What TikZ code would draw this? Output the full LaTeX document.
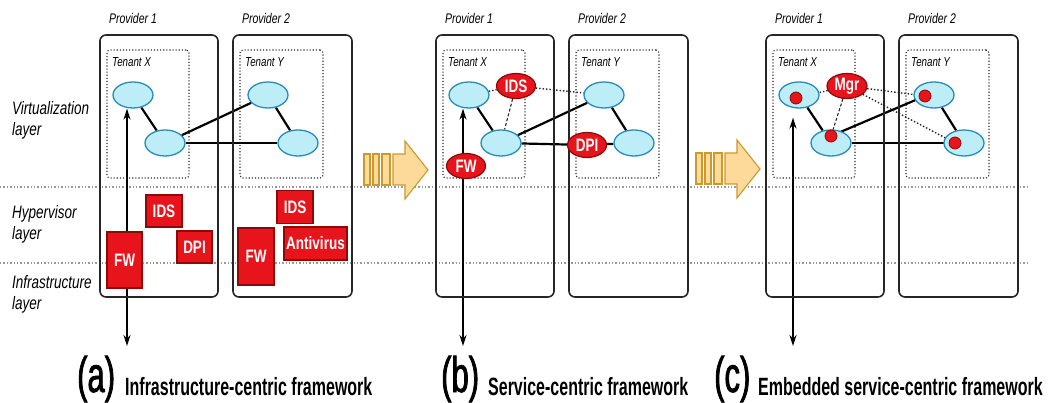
\documentclass[tikz,border=0pt]{standalone}
\usepackage{fontspec}
\setmainfont{Liberation Sans}
\newfontfamily\labfont[FakeStretch=0.75]{Liberation Sans}
\newfontfamily\capfont[FakeStretch=0.64]{Liberation Sans}
\newfontfamily\letfont[FakeStretch=0.62,FakeBold=1.5]{Liberation Sans}
\usetikzlibrary{shapes.geometric,arrows.meta}
\pgfdeclarelayer{bg}
\pgfsetlayers{bg,main}
\definecolor{vmfill}{HTML}{BDEEF8}
\definecolor{vmdraw}{HTML}{2A8CB5}
\definecolor{secred}{HTML}{E8141C}
\definecolor{secdraw}{HTML}{8E0808}
\definecolor{arrfill}{HTML}{FDD99A}
\definecolor{arrdraw}{HTML}{C99A2E}
\tikzset{
  provider/.style={draw=black!85, line width=1.6pt, rounded corners=6pt, inner sep=0pt},
  tenant/.style={draw=black!85, dotted, line width=1.1pt, rounded corners=3pt, inner sep=0pt},
  vm/.style={ellipse, draw=vmdraw, fill=vmfill, line width=1.3pt, minimum width=40pt, minimum height=26pt, inner sep=0pt},
  secbox/.style={rectangle, draw=secdraw, fill=secred, line width=1.2pt, text=white, font=\labfont\bfseries\fontsize{18}{18}\selectfont, inner sep=0pt},
  secell/.style={ellipse, draw=secdraw, fill=secred, line width=1.2pt, text=white, font=\labfont\bfseries\fontsize{18}{18}\selectfont, inner sep=0pt, minimum width=39pt, minimum height=25pt},
  reddot/.style={circle, fill=secred, draw=secdraw, line width=0.8pt, minimum size=12pt, inner sep=0pt},
  link/.style={line width=2.2pt, black},
  ctrl/.style={dotted, line width=1.4pt, black!85},
  dashlink/.style={dash pattern=on 3pt off 2pt, line width=1.1pt, black!85},
  flow/.style={line width=1.6pt, {Stealth[length=11pt,width=7pt]}-{Stealth[length=11pt,width=7pt]}},
  layerline/.style={black!40, dotted, line width=1.4pt},
  provlab/.style={font=\labfont\itshape\fontsize{14}{16}\selectfont, inner sep=0pt},
  tenlab/.style={font=\labfont\itshape\fontsize{13}{15}\selectfont, inner sep=0pt},
  layerlab/.style={font=\labfont\itshape\fontsize{18}{21}\selectfont, align=left, inner sep=0pt, anchor=base west},
  capletter/.style={font=\letfont\fontsize{50}{54}\selectfont, inner sep=0pt, anchor=base west},
  captext/.style={font=\capfont\bfseries\fontsize{25}{28}\selectfont, inner sep=0pt, anchor=base west},
  blockarrow/.style={fill=arrfill, draw=arrdraw, line width=1.1pt, line join=miter}
}
\newcommand\drawframe[2]{%
\begin{scope}[xshift=#2]
\node[provider, minimum width=118pt, minimum height=262pt] (#1P1) at (159,166) {};
\node[provider, minimum width=119pt, minimum height=262pt] (#1P2) at (292.5,166) {};
\node[tenant, minimum width=82pt, minimum height=128pt] (#1T1) at (148,114) {};
\node[tenant, minimum width=83pt, minimum height=128pt] (#1T2) at (281.5,114) {};
\node[provlab] (#1L1) at (133,19) {Provider 1};
\node[provlab] (#1L2) at (266,19) {Provider 2};
\node[tenlab, anchor=base west] (#1N1) at (112,67) {Tenant X};
\node[tenlab, anchor=base west] (#1N2) at (245,67) {Tenant Y};
\node[vm] (#1Xa) at (133,95) {};
\node[vm] (#1Xb) at (165,143) {};
\node[vm] (#1Ya) at (268,95) {};
\node[vm] (#1Yb) at (298,143) {};
\end{scope}}
\newcommand\drawblockarrow[2]{%
\begin{scope}[xshift=#1, yshift=#2]
\fill[blockarrow] (393,154) -- (405,154) -- (405,141) -- (428,170) -- (405,199) -- (405,185) -- (393,185) -- cycle;
\fill[blockarrow] (364,154) rectangle (370,185);
\fill[blockarrow] (373,154) rectangle (379,185);
\fill[blockarrow] (382,154) rectangle (390,185);
\end{scope}}
\begin{document}
\begin{tikzpicture}[x=1pt,y=-1pt]
\useasboundingbox (0,0) rectangle (1049,403);
% layer separators
\coordinate (LsA) at (0,187);
\coordinate (LeA) at (1030,187);
\coordinate (LsB) at (0,263);
\coordinate (LeB) at (1030,263);
\begin{pgfonlayer}{bg}
\draw[layerline] (LsA) -- (LeA);
\draw[layerline] (LsB) -- (LeB);
\end{pgfonlayer}
% layer labels (anchor is baseline of last line)
\node[layerlab] (Lv) at (12,136) {Virtualization\\layer};
\node[layerlab] (Lh) at (12,240) {Hypervisor\\layer};
\node[layerlab] (Li) at (12,309) {Infrastructure\\layer};

% frames
\drawframe{a}{0pt}
\drawframe{b}{336pt}
\drawframe{c}{666pt}

% ---------- panel (a)
\node[secbox, minimum width=36pt, minimum height=32pt] (aIDS) at (164,211) {IDS};
\node[secbox, minimum width=35pt, minimum height=32pt] (aDPI) at (194.5,247) {DPI};
\node[secbox, minimum width=35pt, minimum height=56pt] (aFW) at (124.5,260) {FW};
\node[secbox, minimum width=36pt, minimum height=33pt] (aIDS2) at (295,207) {IDS};
\node[secbox, minimum width=63pt, minimum height=33pt] (aAV) at (315.5,243.5) {Antivirus};
\node[secbox, minimum width=36pt, minimum height=57pt] (aFW2) at (256,256.5) {FW};
\coordinate (aBot) at (127,346);
\begin{pgfonlayer}{bg}
\draw[link] (aXa) -- (aXb);
\draw[link] (aXb) -- (aYa);
\draw[link] (aXb) -- (aYb);
\draw[link] (aYa) -- (aYb);
\draw[flow] (aBot) -- (aBot |- aXa.south);
\end{pgfonlayer}

% ---------- panel (b)
\node[secell] (bIDS) at (516,86) {IDS};
\node[secell] (bFW) at (466,166) {FW};
\node[secell] (bDPI) at (587,145) {DPI};
\coordinate (bBot) at (463,346);
\begin{pgfonlayer}{bg}
\draw[link] (bXa) -- (bXb);
\draw[link] (bXb) -- (bYa);
\draw[link] (bXb) -- (bDPI);
\draw[link] (bDPI) -- (bYb);
\draw[link] (bYa) -- (bYb);
\draw[ctrl] (bXa) -- (bIDS);
\draw[ctrl] (bIDS) -- (bYa);
\draw[dashlink] (bIDS) -- (bXb);
\draw[flow] (bBot) -- (bBot |- bXa.south);
\end{pgfonlayer}

% ---------- panel (c)
\node[secell, minimum width=40pt] (cMgr) at (847,86) {Mgr};
\node[reddot] (cDa) at (796,98) {};
\node[reddot] (cDb) at (831,136) {};
\node[reddot] (cDc) at (925,96) {};
\node[reddot] (cDd) at (955,143) {};
\coordinate (cBot) at (793,346);
\path (cBot |- cXa.south) coordinate (cTop0);
\begin{pgfonlayer}{bg}
\draw[link] (cXa) -- (cXb);
\draw[link] (cDb) -- (cDc);
\draw[link] (cXb) -- (cDd);
\draw[link] (cYa) -- (cYb);
\draw[ctrl] (cMgr) -- (cDa);
\draw[dashlink] (cMgr) -- (cDb);
\draw[ctrl] (cMgr) -- (cDc);
\draw[ctrl] (cMgr) -- (cDd);
\draw[flow] (cBot) -- ([yshift=-9pt]cTop0);
\end{pgfonlayer}

% block arrows
\drawblockarrow{0pt}{0pt}
\drawblockarrow{332pt}{1pt}

% captions
\node[capletter] (capA) at (77,392) {(a)};
\node[captext] (txtA) at (125,395) {Infrastructure-centric framework};
\node[capletter] (capB) at (441,392) {(b)};
\node[captext] (txtB) at (488,395) {Service-centric framework};
\node[capletter] (capC) at (714,392) {(c)};
\node[captext] (txtC) at (758,395) {Embedded service-centric framework};
\end{tikzpicture}
\end{document}
